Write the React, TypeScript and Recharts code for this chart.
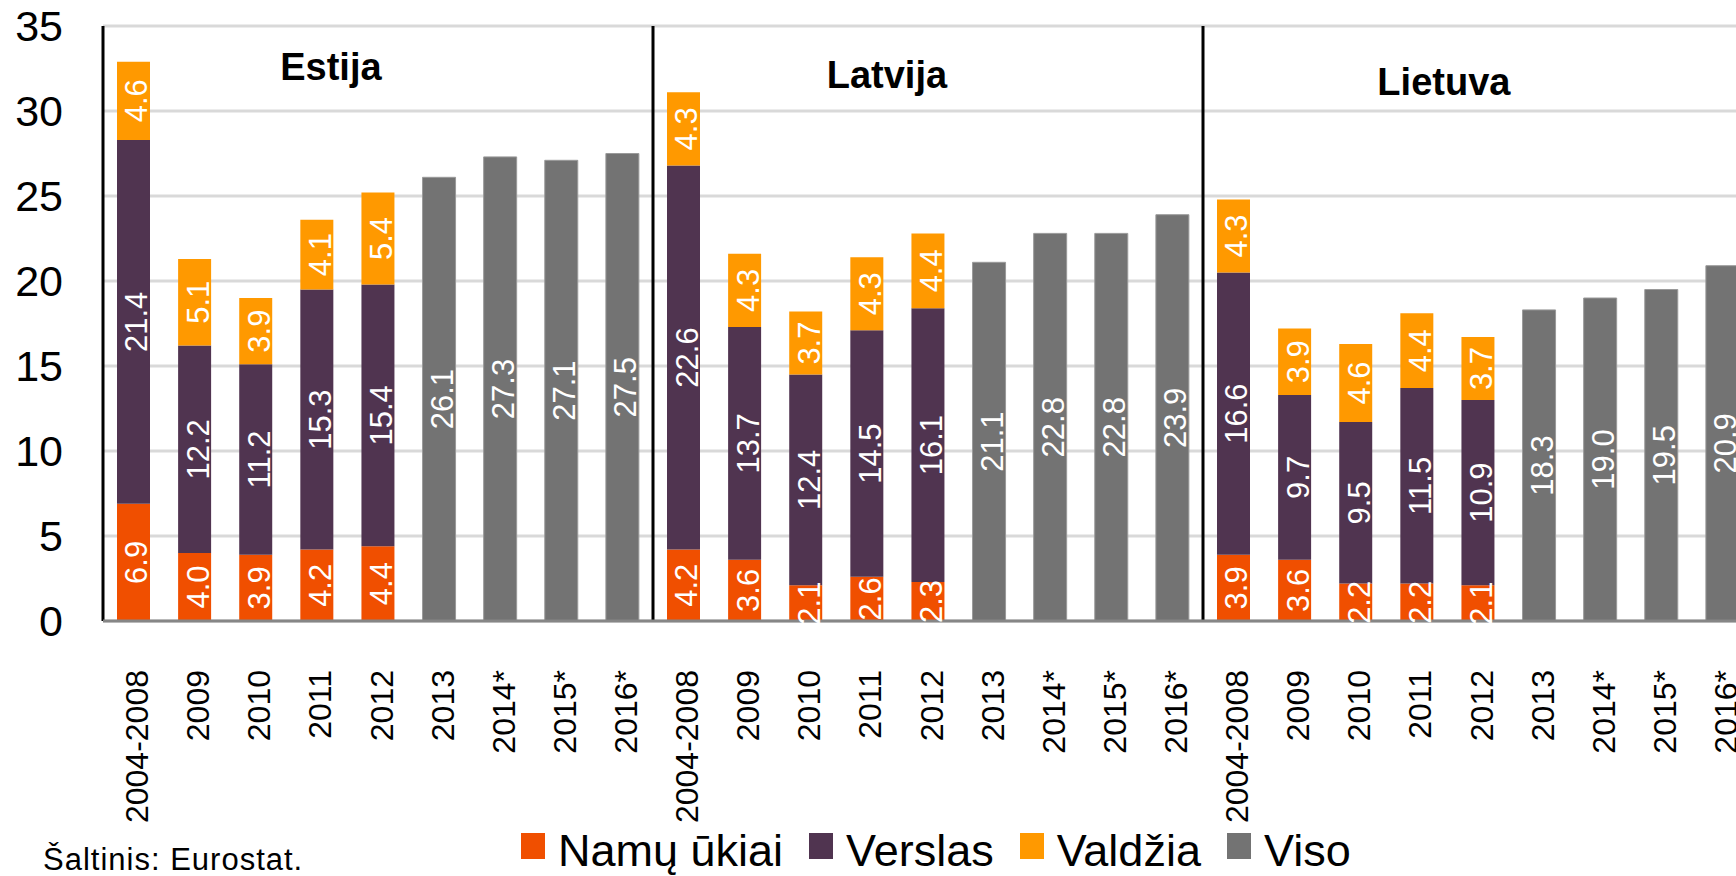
import {
  BarChart,
  Bar,
  XAxis,
  YAxis,
  CartesianGrid,
  Legend,
  LabelList,
  ReferenceLine,
  ReferenceDot,
} from "recharts"

const countries = ["Estija", "Latvija", "Lietuva"]
const periods = ["2004-2008", "2009", "2010", "2011", "2012", "2013", "2014*", "2015*", "2016*"]
const sectorYears = 5

// sector breakdown, 2004-2008 .. 2012
const namuUkiai = [
  [6.9, 4.0, 3.9, 4.2, 4.4],
  [4.2, 3.6, 2.1, 2.6, 2.3],
  [3.9, 3.6, 2.2, 2.2, 2.1],
]
const verslas = [
  [21.4, 12.2, 11.2, 15.3, 15.4],
  [22.6, 13.7, 12.4, 14.5, 16.1],
  [16.6, 9.7, 9.5, 11.5, 10.9],
]
const valdzia = [
  [4.6, 5.1, 3.9, 4.1, 5.4],
  [4.3, 4.3, 3.7, 4.3, 4.4],
  [4.3, 3.9, 4.6, 4.4, 3.7],
]
// totals, 2013 .. 2016*
const viso = [
  [26.1, 27.3, 27.1, 27.5],
  [21.1, 22.8, 22.8, 23.9],
  [18.3, 19.0, 19.5, 20.9],
]
const yTicks = [0, 5, 10, 15, 20, 25, 30, 35]
const seriesNames = ["Namų ūkiai", "Verslas", "Valdžia", "Viso"]

// country name placement: anchor category, pixel nudge, height in axis units
const panelLabelPos = [
  { period: "2011", dx: 14, y: 31.8 },
  { period: "2011", dx: 20, y: 31.35 },
  { period: "2011", dx: 27, y: 30.95 },
]

const COLORS = {
  namu: "#F04F00",
  verslas: "#503450",
  valdzia: "#FF9900",
  viso: "#737373",
}

const FONT = '"Liberation Sans", Arial, sans-serif'

const rows = countries.flatMap((c, ci) =>
  periods.map((p, pi) => ({
    id: `${c}|${p}`,
    namu: pi < sectorYears ? namuUkiai[ci][pi] : null,
    verslas: pi < sectorYears ? verslas[ci][pi] : null,
    valdzia: pi < sectorYears ? valdzia[ci][pi] : null,
    viso: pi >= sectorYears ? viso[ci][pi - sectorYears] : null,
  }))
)

const renderBarLabel = (props: any) => {
  const { x, y, width, height, value } = props
  if (value == null || value === 0) return null
  const bx = Number(x) + Number(width) / 2 + 14
  const cy = Number(y) + Number(height) / 2
  return (
    <text
      x={bx}
      y={cy}
      transform={`rotate(-90 ${bx} ${cy})`}
      textAnchor="middle"
      fill="#fff"
      fontSize={31}
      fontFamily={FONT}
    >
      {Number(value).toFixed(1)}
    </text>
  )
}

const renderTick = (props: any) => {
  const { x, y, payload } = props
  const label = String(payload.value).split("|")[1]
  const tx = x + 14.5
  const ty = y + 49
  return (
    <text
      x={tx}
      y={ty}
      transform={`rotate(-90 ${tx} ${ty})`}
      textAnchor="end"
      fill="#000"
      fontSize={32}
      fontFamily={FONT}
    >
      {label}
    </text>
  )
}

const renderLegend = (props: any) => {
  const payload: any[] = props.payload || []
  const items = seriesNames
    .map((n) => payload.find((p) => p.value === n))
    .filter(Boolean)
  return (
    <div style={{ display: "flex", fontFamily: FONT }}>
      {items.map((entry: any) => (
        <div key={entry.value} style={{ display: "flex", alignItems: "flex-start", marginRight: 26 }}>
          <span
            style={{
              width: 24,
              height: 26,
              marginTop: 5,
              marginRight: 13,
              background: entry.color,
              display: "inline-block",
            }}
          />
          <span style={{ fontSize: 45, lineHeight: "45px", color: "#000", whiteSpace: "nowrap" }}>
            {entry.value}
          </span>
        </div>
      ))}
    </div>
  )
}

export default function App() {
  return (
    <div
      style={{
        position: "absolute",
        left: 0,
        top: 0,
        width: 1736,
        height: 876,
        overflow: "hidden",
        background: "#fff",
        fontFamily: FONT,
      }}
    >
      <BarChart
        width={1760}
        height={876}
        data={rows}
        margin={{ top: 26, right: 7, bottom: 0, left: 0 }}
      >
        <CartesianGrid vertical={false} stroke="#d9d9d9" strokeWidth={3} />
        <XAxis
          dataKey="id"
          interval={0}
          tickLine={false}
          tickSize={0}
          tickMargin={0}
          axisLine={{ stroke: "#868686", strokeWidth: 3 }}
          height={255}
          tick={renderTick}
        />
        <YAxis
          domain={[0, 35]}
          ticks={yTicks}
          width={103}
          axisLine={false}
          tickLine={false}
          tickSize={0}
          tickMargin={40}
          tick={{ fontSize: 43, fill: "#000", fontFamily: FONT }}
        />
        <Bar dataKey="namu" name="Namų ūkiai" stackId="s" fill={COLORS.namu} barSize={33} isAnimationActive={false}>
          <LabelList dataKey="namu" content={renderBarLabel} />
        </Bar>
        <Bar dataKey="verslas" name="Verslas" stackId="s" fill={COLORS.verslas} barSize={33} isAnimationActive={false}>
          <LabelList dataKey="verslas" content={renderBarLabel} />
        </Bar>
        <Bar dataKey="valdzia" name="Valdžia" stackId="s" fill={COLORS.valdzia} barSize={33} isAnimationActive={false}>
          <LabelList dataKey="valdzia" content={renderBarLabel} />
        </Bar>
        <Bar
          dataKey="viso"
          name="Viso"
          stackId="s"
          fill={COLORS.viso}
          stroke="#9a9a9a"
          strokeWidth={1}
          barSize={33}
          isAnimationActive={false}
        >
          <LabelList dataKey="viso" content={renderBarLabel} />
        </Bar>
        {countries.map((c) => (
          <ReferenceLine
            key={`sep-${c}`}
            x={`${c}|${periods[0]}`}
            position="start"
            stroke="#000"
            strokeWidth={3}
          />
        ))}
        {countries.map((c, i) => (
          <ReferenceDot
            key={c}
            x={`${c}|${panelLabelPos[i].period}`}
            y={panelLabelPos[i].y}
            r={0}
            shape={(p: any) => (
              <text
                x={p.cx + panelLabelPos[i].dx}
                y={p.cy}
                textAnchor="middle"
                fontSize={38}
                fontWeight="bold"
                fill="#000"
                fontFamily={FONT}
              >
                {c}
              </text>
            )}
          />
        ))}
        <Legend
          verticalAlign="middle"
          align="center"
          layout="horizontal"
          wrapperStyle={{ top: 828, left: 521, width: 1000, height: 46 }}
          content={renderLegend}
        />
      </BarChart>
      <div
        style={{
          position: "absolute",
          left: 43,
          top: 844,
          fontSize: 31,
          lineHeight: "31px",
          letterSpacing: 1,
          color: "#000",
          whiteSpace: "nowrap",
        }}
      >
        Šaltinis: Eurostat.
      </div>
    </div>
  )
}
